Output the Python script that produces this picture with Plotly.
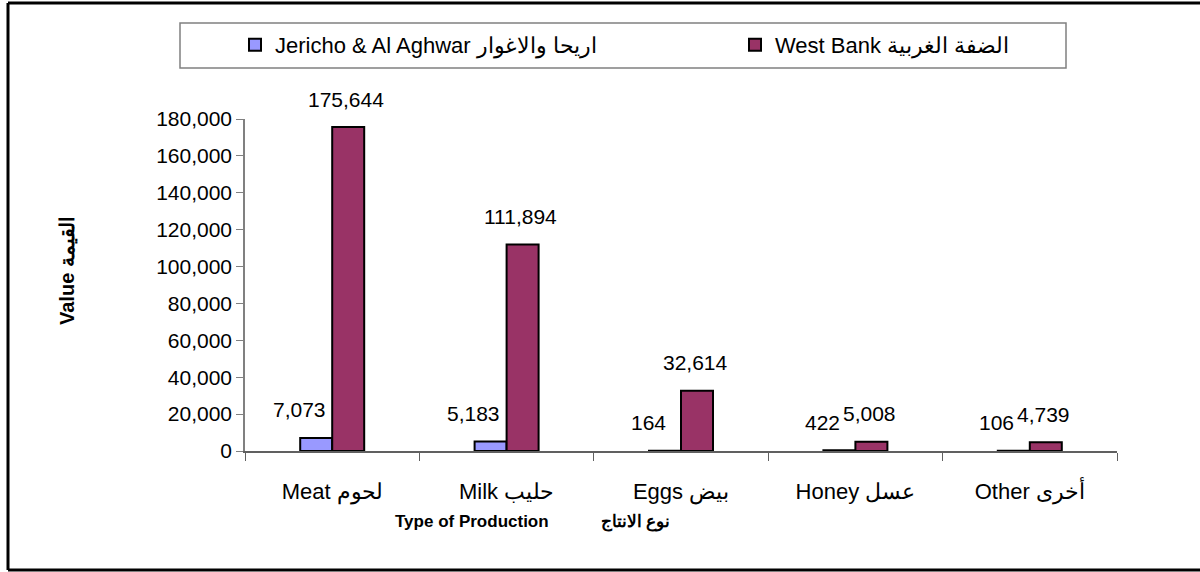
import plotly.graph_objects as go

# ---- data ----
categories = ["Meat لحوم", "Milk حليب", "Eggs بيض", "Honey عسل", "Other أخرى"]
jericho = [7073, 5183, 164, 422, 106]
west_bank = [175644, 111894, 32614, 5008, 4739]
series_names = ["Jericho & Al Aghwar اريحا والاغوار", "West Bank الضفة الغربية"]
y_ticks = [0, 20000, 40000, 60000, 80000, 100000, 120000, 140000, 160000, 180000]

# ---- layout constants (pixels) ----
W, H = 1200, 572
L, R, T, B = 245, 83, 119, 121
PW, PH = W - L - R, H - T - B
FONT = "Liberation Sans, Arial, sans-serif"

def px_x(px):
    return (px - L) / PW

def px_y(py):
    return (H - B - py) / PH

fig = go.Figure()
fig.add_trace(go.Bar(x=categories, y=jericho, name=series_names[0],
                     marker=dict(color="#9999FF", line=dict(color="black", width=2))))
fig.add_trace(go.Bar(x=categories, y=west_bank, name=series_names[1],
                     marker=dict(color="#993366", line=dict(color="black", width=2))))

annotations = []
for c, v in zip(categories, jericho):
    annotations.append(dict(x=c, y=v, xref="x", yref="y", text=f"{v:,}", showarrow=False,
                            xshift=-33, yshift=28, font=dict(size=21, color="black", family=FONT)))
for c, v in zip(categories, west_bank):
    annotations.append(dict(x=c, y=v, xref="x", yref="y", text=f"{v:,}", showarrow=False,
                            xshift=14, yshift=28, font=dict(size=21, color="black", family=FONT)))

# axis titles
annotations.append(dict(x=px_x(67), y=px_y(271), xref="paper", yref="paper",
                        xanchor="center", yanchor="middle",
                        text="<b>Value القيمة</b>", textangle=-90, showarrow=False,
                        font=dict(size=20, color="black", family=FONT)))
annotations.append(dict(x=px_x(532), y=px_y(522), xref="paper", yref="paper",
                        xanchor="center", yanchor="middle",
                        text="<b>Type of Production" + "\u00a0" * 11 + "نوع الانتاج</b>", showarrow=False,
                        font=dict(size=17, color="black", family=FONT)))

shapes = [
    # legend box
    dict(type="rect", xref="paper", yref="paper", x0=px_x(180), x1=px_x(1066), y0=px_y(23), y1=px_y(68),
         line=dict(color="#808080", width=1.5), fillcolor="rgba(0,0,0,0)", layer="below"),
    # outer frame (top, left, bottom)
    dict(type="line", xref="paper", yref="paper", x0=px_x(8), x1=px_x(1210), y0=px_y(3), y1=px_y(3),
         line=dict(color="black", width=3)),
    dict(type="line", xref="paper", yref="paper", x0=px_x(8), x1=px_x(8), y0=px_y(3), y1=px_y(570),
         line=dict(color="black", width=3)),
    dict(type="line", xref="paper", yref="paper", x0=px_x(8), x1=px_x(1210), y0=px_y(570), y1=px_y(570),
         line=dict(color="black", width=3)),
]

fig.update_layout(
    width=W, height=H,
    margin=dict(l=L, r=R, t=T, b=B, autoexpand=False),
    paper_bgcolor="white", plot_bgcolor="white",
    font=dict(family=FONT, size=20, color="black"),
    barmode="group", bargap=0.633, bargroupgap=0,
    showlegend=True,
    legend=dict(orientation="h", x=px_x(235), xanchor="left", y=px_y(45), yanchor="middle",
                entrywidth=455, entrywidthmode="pixels", itemwidth=30,
                font=dict(size=22, family=FONT, color="black"),
                bgcolor="rgba(0,0,0,0)", borderwidth=0, traceorder="normal"),
    xaxis=dict(showline=True, linecolor="#606060", linewidth=1.5, ticks="outside", tickson="boundaries",
               ticklen=8, tickcolor="#606060", tickfont=dict(size=22, family=FONT, color="black"),
               ticklabelstandoff=20,
               showgrid=False, zeroline=False),
    yaxis=dict(range=[0, 180000], tickvals=y_ticks, tickformat=",", showline=True, linecolor="#808080",
               linewidth=1.5, ticks="outside", ticklen=7, tickcolor="#808080",
               tickfont=dict(size=21, family=FONT, color="black"), showgrid=False, zeroline=False),
    annotations=annotations,
    shapes=shapes,
)

fig.write_html("out.html", config={"displayModeBar": False},
               post_script="document.body.style.margin='0px';document.body.style.overflow='hidden';")
